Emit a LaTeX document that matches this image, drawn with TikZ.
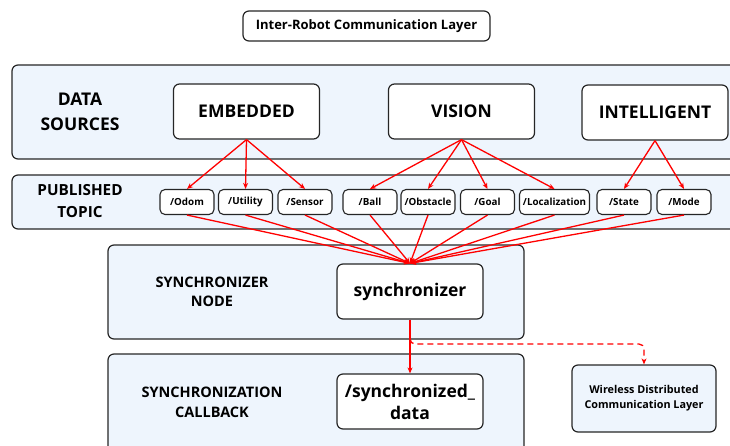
\documentclass[tikz,border=0pt]{standalone}
\usepackage{fontspec}
\setmainfont{Open Sans}
\usetikzlibrary{arrows.meta,positioning}
\definecolor{panelblue}{HTML}{EEF5FD}
\definecolor{linkred}{HTML}{FF0000}

\begin{document}
\begin{tikzpicture}[x=1pt,y=-1pt,>={Stealth[length=6pt,width=5pt]},
  panel/.style={draw=black!85,line width=1.2pt,rounded corners=6pt,fill=panelblue},
  box/.style={draw=black!85,line width=1.2pt,rounded corners=6pt,fill=white,align=center,
    font=\bfseries\fontsize{17.5}{22}\selectfont,minimum width=146pt,minimum height=55pt},
  topic/.style={draw=black!85,line width=1.1pt,rounded corners=5pt,fill=white,
    font=\bfseries\fontsize{9.8}{11}\selectfont,minimum width=54pt,minimum height=25pt,inner sep=1pt},
  layer/.style={align=center,font=\bfseries\fontsize{15.3}{22}\selectfont},
  link/.style={->,draw=linkred,line width=1.3pt}]
\useasboundingbox (0,0) rectangle (730,446);

% layers
\draw[panel] (12,65) rectangle (745,159);
\draw[panel] (12,175) rectangle (745,229);
\draw[panel] (108,245) rectangle (524,339);
\draw[panel] (108,354) rectangle (524,470);

\node[draw=black!85,line width=1.2pt,rounded corners=6pt,fill=white,font=\bfseries\fontsize{13}{15}\selectfont,
  minimum width=247pt,minimum height=30pt] (title) at (366.5,26) {Inter-Robot Communication Layer};

\node[layer,font=\bfseries\fontsize{17.5}{25}\selectfont] (srclbl) at (80,112) {DATA\\SOURCES};
\node[layer] (publbl) at (80,201) {PUBLISHED\\TOPIC};
\node[layer,font=\bfseries\fontsize{14.5}{19}\selectfont] (synclbl) at (212,292) {SYNCHRONIZER\\NODE};
\node[layer,font=\bfseries\fontsize{14.5}{20}\selectfont] (cblbl) at (212,402) {SYNCHRONIZATION\\CALLBACK};

% sources
\node[box] (embedded) at (246.5,111.5) {EMBEDDED};
\node[box] (vision) at (461.5,111.5) {VISION};
\node[box] (intelligent) at (655,112.5) {INTELLIGENT};

% topics
\node[topic] (odom) at (187,202) {/Odom};
\node[topic] (utility) at (245.5,202) {/Utility};
\node[topic] (sensor) at (305,202) {/Sensor};
\node[topic] (ball) at (370,202) {/Ball};
\node[topic] (obstacle) at (428,202) {/Obstacle};
\node[topic] (goal) at (487.5,202) {/Goal};
\node[topic,minimum width=70pt] (localization) at (554.5,202) {/Localization};
\node[topic] (state) at (624,202) {/State};
\node[topic] (mode) at (684,202) {/Mode};

\node[box] (sync) at (410,291.5) {synchronizer};
\node[box] (syncdata) at (410,401.5) {/synchronized\_\\data};
\node[draw=black!85,line width=1.2pt,rounded corners=6pt,fill=panelblue,align=center,
  font=\bfseries\fontsize{10.8}{15}\selectfont,minimum width=144pt,minimum height=67pt] (wireless) at (644,398.5)
  {Wireless Distributed\\Communication Layer};

% links
\foreach \t in {odom,utility,sensor}
  \draw[link] (embedded.south) -- (\t.north);
\foreach \t in {ball,obstacle,goal,localization}
  \draw[link] (vision.south) -- (\t.north);
\foreach \t in {state,mode}
  \draw[link] (intelligent.south) -- (\t.north);
\foreach \t in {odom,utility,sensor,ball,obstacle,goal,localization,state,mode}
  \draw[link] (\t.south) -- (sync.north);

\draw[link] (sync) -- (syncdata);
\coordinate (branch) at (410,339);
\draw[link,dash pattern=on 6pt off 4pt,rounded corners=5pt] (branch) -- ++(0,5) -| (wireless.north);
\end{tikzpicture}
\end{document}
